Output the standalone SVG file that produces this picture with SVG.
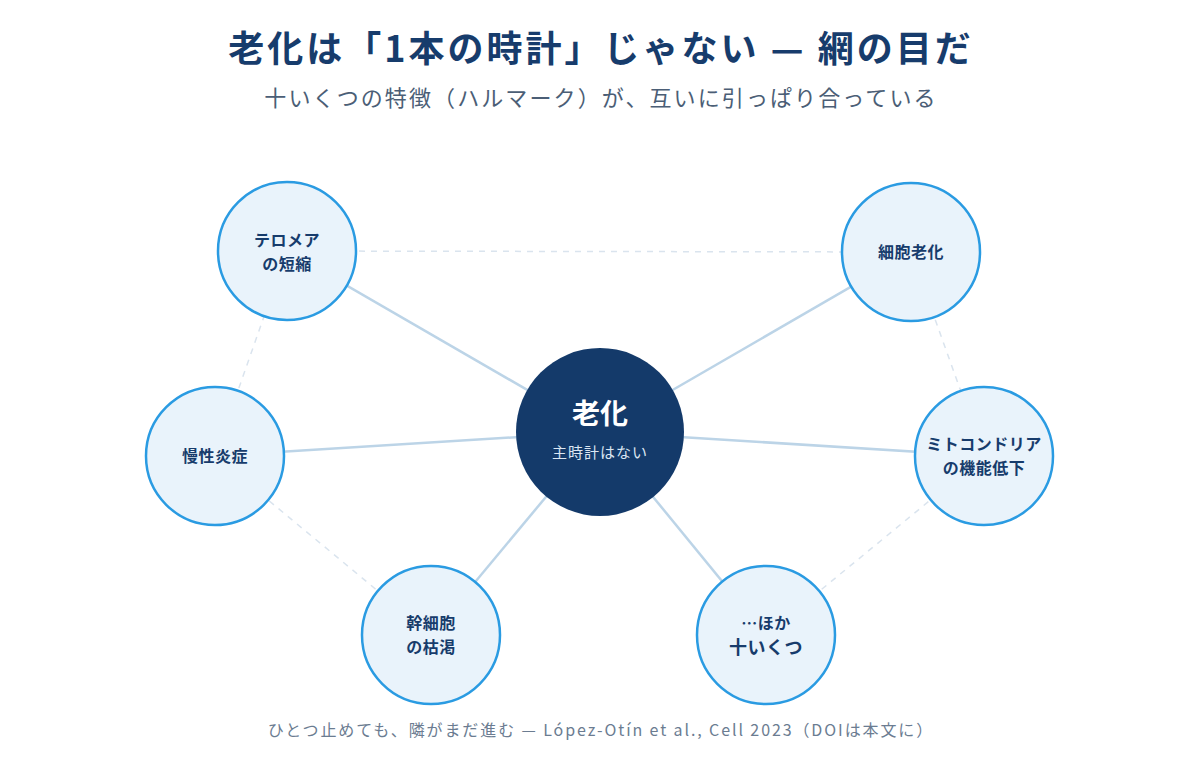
<svg xmlns="http://www.w3.org/2000/svg" width="1200" height="768" viewBox="0 0 1200 768">
<style>
.title{font-family:"Noto Sans CJK JP","Noto Sans",sans-serif;font-weight:700;font-size:36px;fill:#173c6c;text-anchor:middle;letter-spacing:3px}
.sub{font-family:"Noto Sans CJK JP","Noto Sans",sans-serif;font-size:22px;fill:#4b5e76;text-anchor:middle;letter-spacing:2.1px}
.foot{font-family:"Noto Sans CJK JP","Noto Sans",sans-serif;font-size:16px;fill:#6b7c91;text-anchor:middle;letter-spacing:1.9px}
.spoke{stroke:#bcd4e7;stroke-width:2.5;fill:none}
.ring{stroke:#dae4ee;stroke-width:1.5;stroke-dasharray:6 6;fill:none}
.node{fill:#e9f3fb;stroke:#2a9be2;stroke-width:2.5}
.lbl{font-family:"Noto Sans CJK JP","Noto Sans",sans-serif;font-weight:700;font-size:16px;fill:#173c6c;text-anchor:middle;letter-spacing:0.5px}
.hub{fill:#143a6a}
.hubt{font-family:"Noto Sans CJK JP","Noto Sans",sans-serif;font-weight:700;font-size:28px;fill:#ffffff;text-anchor:middle}
.hubs{font-family:"Noto Sans CJK JP","Noto Sans",sans-serif;font-size:15px;fill:#dbe6f2;text-anchor:middle;letter-spacing:1px}
</style>
<rect width="1200" height="768" fill="#ffffff"/>
<text class="title" x="601" y="62">老化は「1本の時計」じゃない — 網の目だ</text>
<text class="sub" x="601" y="106">十いくつの特徴（ハルマーク）が、互いに引っぱり合っている</text>
<g id="connectors">
<line class="ring" x1="287" y1="251" x2="911" y2="252"/>
<line class="ring" x1="911" y1="252" x2="984" y2="456"/>
<line class="ring" x1="984" y1="456" x2="766" y2="635"/>
<line class="ring" x1="431" y1="635" x2="215" y2="456"/>
<line class="ring" x1="215" y1="456" x2="287" y2="251"/>
<line class="spoke" x1="600" y1="432" x2="287" y2="251"/>
<line class="spoke" x1="600" y1="432" x2="911" y2="252"/>
<line class="spoke" x1="600" y1="432" x2="215" y2="456"/>
<line class="spoke" x1="600" y1="432" x2="984" y2="456"/>
<line class="spoke" x1="600" y1="432" x2="431" y2="635"/>
<line class="spoke" x1="600" y1="432" x2="766" y2="635"/>
</g>
<g id="node-telomere">
<circle class="node" cx="287" cy="251" r="69"/>
<text class="lbl" x="287" y="246">テロメア</text>
<text class="lbl" x="287" y="270">の短縮</text>
</g>
<g id="node-senescence">
<circle class="node" cx="911" cy="252" r="69"/>
<text class="lbl" x="911" y="258">細胞老化</text>
</g>
<g id="node-inflammation">
<circle class="node" cx="215" cy="456" r="69"/>
<text class="lbl" x="215" y="462">慢性炎症</text>
</g>
<g id="node-mitochondria">
<circle class="node" cx="984" cy="456" r="69"/>
<text class="lbl" x="984" y="450">ミトコンドリア</text>
<text class="lbl" x="984" y="474">の機能低下</text>
</g>
<g id="node-stemcell">
<circle class="node" cx="431" cy="635" r="69"/>
<text class="lbl" x="431" y="629">幹細胞</text>
<text class="lbl" x="431" y="653">の枯渇</text>
</g>
<g id="node-others">
<circle class="node" cx="766" cy="635" r="69"/>
<text class="lbl" x="766" y="629">…ほか</text>
<text class="lbl" x="766" y="654" style="font-size:18px">十いくつ</text>
</g>
<g id="node-aging">
<circle class="hub" cx="600" cy="432" r="84"/>
<text class="hubt" x="600" y="424">老化</text>
<text class="hubs" x="600" y="458">主時計はない</text>
</g>
<text class="foot" x="601" y="736">ひとつ止めても、隣がまだ進む — López-Otín et al., Cell 2023（DOIは本文に）</text>
</svg>
